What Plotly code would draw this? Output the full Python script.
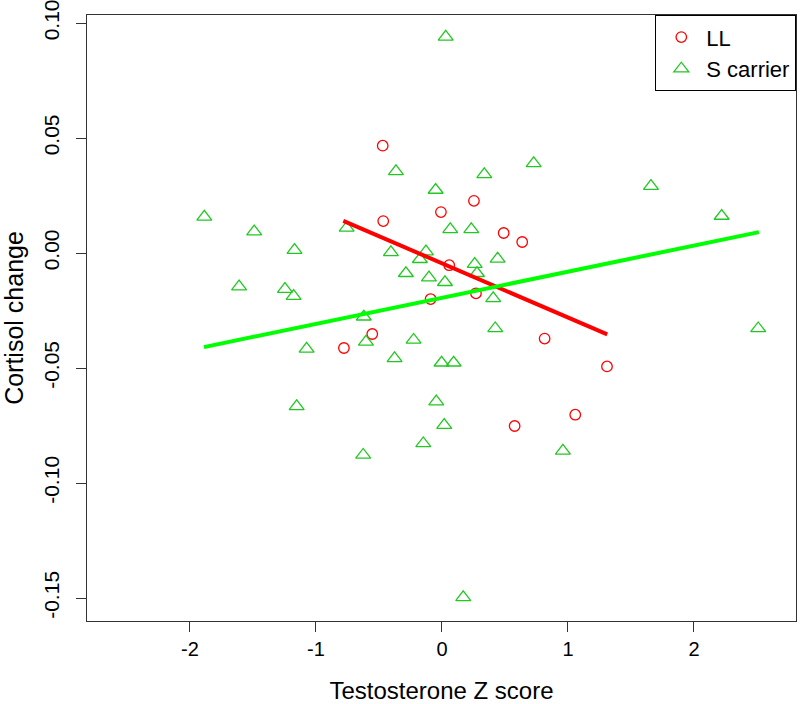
import plotly.graph_objects as go

# LL group (red circles)
ll_x = [-0.47, -0.008, -0.466, 0.254, 0.49, 0.637, 0.058, 0.27, -0.09, -0.553,
        -0.778, 0.815, 1.31, 1.058, 0.577]
ll_y = [0.0467, 0.0178, 0.0139, 0.0227, 0.0087, 0.0048, -0.0053, -0.0175, -0.020, -0.0352,
        -0.0413, -0.0372, -0.0493, -0.0703, -0.0752]

# S carrier group (green triangles)
s_x = [0.03, 0.728, -0.365, 0.336, 1.659, -0.05, 2.22, -1.886, -0.756, 0.066,
       0.233, -1.49, -1.17, -0.405, -0.127, -0.175, 0.442, 0.26, -0.286, 0.278,
       -0.103, 0.024, -1.61, -1.246, -1.177, 0.407, -0.62, 0.423, 2.51, -0.603,
       -0.225, -1.074, -0.376, -0.003, 0.093, -1.153, -0.045, 0.018, -0.148, -0.625,
       0.96, 0.169]
s_y = [0.094, 0.039, 0.0355, 0.0342, 0.0291, 0.0274, 0.0161, 0.0157, 0.0109, 0.0103,
       0.0103, 0.0093, 0.0013, 0.0003, 0.0006, -0.0027, -0.0025, -0.0048, -0.0088, -0.0088,
       -0.0107, -0.0127, -0.0146, -0.0157, -0.0187, -0.0197, -0.0277, -0.0328, -0.0328, -0.0386,
       -0.0378, -0.0417, -0.0458, -0.0477, -0.0477, -0.0667, -0.0646, -0.0748, -0.0828, -0.0878,
       -0.086, -0.1497]

# Fitted regression lines (endpoints)
ll_fit_x = [-0.783, 1.312]
ll_fit_y = [0.014, -0.0354]
s_fit_x = [-1.889, 2.516]
s_fit_y = [-0.0409, 0.0091]

x_ticks = [-2, -1, 0, 1, 2]
x_ticklabels = ["-2", "-1", "0", "1", "2"]
y_ticks = [0.10, 0.05, 0.0, -0.05, -0.10, -0.15]
y_ticklabels = ["0.10", "0.05", "0.00", "-0.05", "-0.10", "-0.15"]

RED = "#FF0000"
GREEN_PT = "#22C822"
GREEN_LN = "#00FF00"
FONT = "Liberation Sans, Arial, sans-serif"

fig = go.Figure()
fig.add_trace(go.Scatter(
    x=ll_x, y=ll_y, mode="markers", name="LL",
    marker=dict(symbol="circle-open", size=10.5, color=RED, line=dict(width=1.3, color=RED)),
))
fig.add_trace(go.Scatter(
    x=s_x, y=s_y, mode="markers", name="S carrier",
    marker=dict(symbol="triangle-up-open", size=13, color=GREEN_PT, line=dict(width=1.3, color=GREEN_PT)),
))
fig.add_trace(go.Scatter(
    x=ll_fit_x, y=ll_fit_y, mode="lines", showlegend=False,
    line=dict(color=RED, width=4),
))
fig.add_trace(go.Scatter(
    x=s_fit_x, y=s_fit_y, mode="lines", showlegend=False,
    line=dict(color=GREEN_LN, width=4),
))

axis_common = dict(
    showgrid=False, zeroline=False, showline=True, mirror=True,
    linecolor="#333333", linewidth=1.3,
    ticks="outside", ticklen=10, tickwidth=1.3, tickcolor="#333333",
    automargin=False, ticklabeloverflow="allow",
)

fig.update_layout(
    width=800, height=704,
    margin=dict(l=87, r=4, t=15, b=83),
    paper_bgcolor="white", plot_bgcolor="white",
    font=dict(family=FONT, color="black"),
    xaxis=dict(
        range=[-2.817, 2.81], tickvals=x_ticks, ticktext=x_ticklabels,
        tickfont=dict(size=20, family=FONT, color="black"),
        title=dict(text="Testosterone Z score", font=dict(size=24, family=FONT, color="black"), standoff=26),
        **axis_common,
    ),
    yaxis=dict(
        range=[-0.16, 0.1035], tickvals=y_ticks, ticktext=y_ticklabels, tickangle=-90,
        tickfont=dict(size=21, family=FONT, color="black"),
        ticklabelstandoff=8,
        title=dict(text="Cortisol change", font=dict(size=25, family=FONT, color="black"), standoff=22),
        **axis_common,
    ),
    legend=dict(
        x=1, y=1, xanchor="right", yanchor="top",
        bordercolor="black", borderwidth=1.3, bgcolor="white",
        font=dict(size=22, family=FONT, color="black"),
        tracegroupgap=0, itemwidth=40,
    ),
    showlegend=True,
)

# Remove the default page margin so the figure fills the 800x704 window exactly.
fig.write_html(
    "out.html",
    config={"displayModeBar": False},
    post_script="document.body.style.margin='0';",
)
